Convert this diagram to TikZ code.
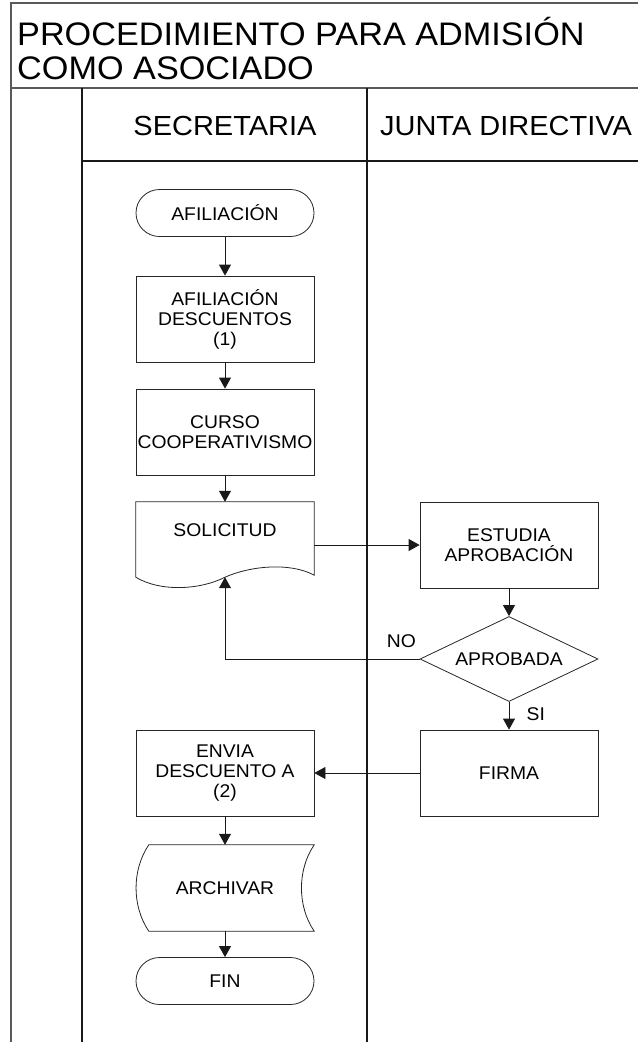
\documentclass[tikz,border=0pt]{standalone}
\usepackage{fontspec}
\setmainfont{Liberation Sans}[FakeStretch=1.05]
\usetikzlibrary{arrows.meta}
\usetikzlibrary{shapes.geometric}

\newcommand{\flowfont}{\fontsize{18.4}{20}\selectfont}

\begin{document}
\begin{tikzpicture}[x=1pt,y=1pt,
    proc/.style={
% The shape:
rectangle,
% The size:
minimum height=86pt,
minimum width=178pt,
inner sep=1pt,
% The border:
draw=black!85, line width=.8pt,
% The text:
align=center, font=\flowfont
},
    term/.style={
% The shape:
rectangle, rounded corners=23.5pt,
% The size:
minimum height=47pt,
minimum width=178pt,
% The border:
draw=black!85, line width=.8pt,
font=\flowfont
},
    decision/.style={
% The shape:
diamond, aspect=2.1,
% The size:
minimum height=85pt,
minimum width=178pt,
inner sep=0pt,
% The border:
draw=black!85, line width=.8pt,
font=\flowfont
},
    blank/.style={
% The shape:
rectangle,
% The size:
minimum width=178pt,
inner sep=0pt,
font=\flowfont
},
    outline/.style={draw=black!85, line width=.8pt},
    frame/.style={draw=black!65, line width=1.5pt},
    lane/.style={draw=black!90, line width=1.4pt},
    flow/.style={-{Triangle[length=11pt,width=12pt]}, line width=.8pt, draw=black!90},
    lbl/.style={font=\flowfont},
]
  \useasboundingbox (0,0) rectangle (638,-1042);

  % frame and lanes
  \draw[frame] (11,-1042) -- (11,-3) -- (638,-3);
  \draw[frame] (11,-88) -- (638,-88);
  \draw[lane] (82,-88) -- (82,-1042);
  \draw[lane] (367,-88) -- (367,-1042);
  \draw[lane] (82,-161) -- (638,-161);

  \node[anchor=north west, align=left, inner sep=0pt,
        font=\fontsize{32.6}{34}\selectfont] (title) at (17,-17)
        {PROCEDIMIENTO PARA ADMISIÓN\\COMO ASOCIADO};
  \node[font=\fontsize{27.6}{27.6}\selectfont] (sec)   at (225,-126) {SECRETARIA};
  \node[font=\fontsize{27.6}{27.6}\selectfont] (junta) at (506,-126) {JUNTA DIRECTIVA};

  \node[term]                          (afil)   at (225,-213)   {AFILIACIÓN};
  \node[proc]                          (desc)   at (225,-319)   {AFILIACIÓN\\DESCUENTOS\\(1)};
  \node[proc]                          (curso)  at (225,-432)   {CURSO\\COOPERATIVISMO};
  \node[blank,minimum height=75pt]     (sol)    at (225,-539.5) {};
  \node[lbl]                           (soltxt) at (225,-530)   {SOLICITUD};
  \node[proc]                          (est)    at (509,-545)   {ESTUDIA\\APROBACIÓN};
  \node[decision]                      (aprob)  at (509,-659)   {APROBADA};
  \node[proc]                          (firma)  at (509,-773)   {FIRMA};
  \node[proc]                          (envia)  at (225,-773)   {ENVIA\\DESCUENTO A\\(2)};
  \node[blank,minimum height=86pt]     (arch)   at (225,-888)   {ARCHIVAR};
  \node[term]                          (fin)    at (225,-981)   {FIN};

  % document shape
  \draw[outline] (sol.south west) -- (sol.north west) -- (sol.north east) -- ([yshift=2pt]sol.south east)
    .. controls (290,-562) and (250,-566) .. (sol.south)
    .. controls (200,-590) and (160,-592) .. (sol.south west) -- cycle;
  % stored data shape
  \draw[outline] ([xshift=13pt]arch.north west) -- (arch.north east)
    .. controls ([shift={(-17,-25)}]arch.north east) and ([shift={(-17,25)}]arch.south east) .. (arch.south east)
    -- ([xshift=13pt]arch.south west)
    .. controls ([shift={(-4,25)}]arch.south west) and ([shift={(-4,-25)}]arch.north west) .. cycle;

  \draw[flow] (afil)  -- (desc);
  \draw[flow] (desc)  -- (curso);
  \draw[flow] (curso) -- (sol);
  \draw[flow] (sol.east |- est.west) -- (est.west);
  \draw[flow] (est)   -- (aprob);
  \draw[flow] (aprob.west) -| node[pos=0,above left,yshift=8pt,lbl] (no) {NO} (sol.south);
  \draw[flow] (aprob) -- node[pos=.44,right,xshift=14pt,lbl] (si) {SI} (firma);
  \draw[flow] (firma) -- (envia);
  \draw[flow] (envia) -- (arch);
  \draw[flow] (arch)  -- (fin);
\end{tikzpicture}
\end{document}
